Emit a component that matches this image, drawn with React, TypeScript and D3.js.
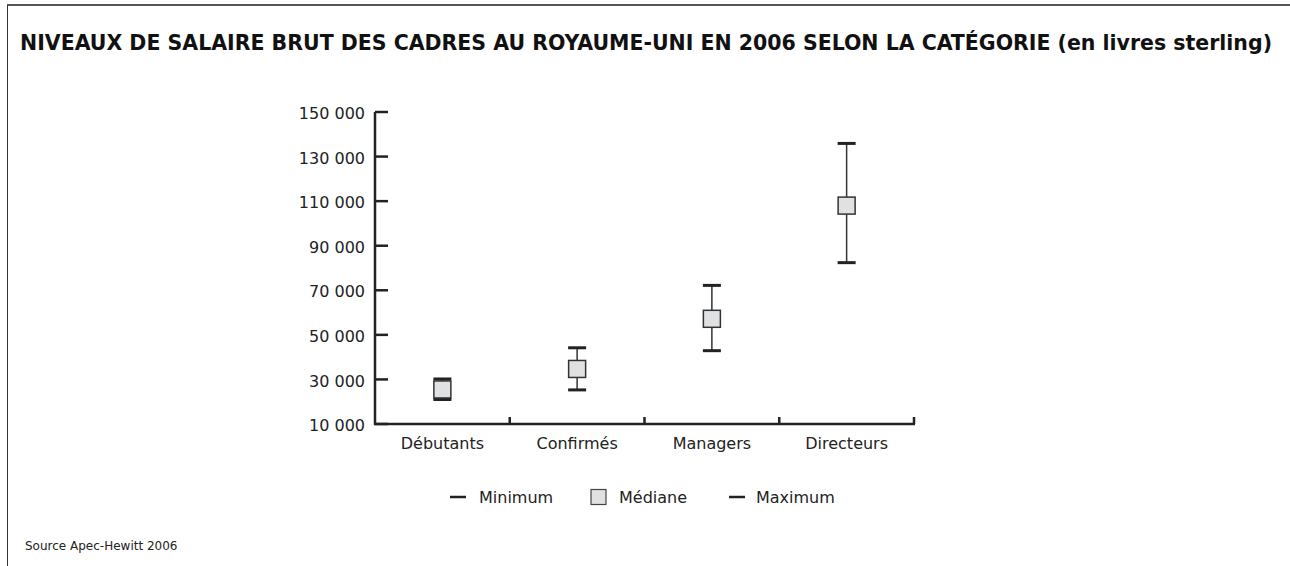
import React from "react";
import * as d3 from "d3";

const categories = ["Débutants", "Confirmés", "Managers", "Directeurs"];
const minValues = [21000, 25300, 42900, 82400];
const medianValues = [25500, 34700, 57200, 108000];
const maxValues = [30200, 44200, 72200, 135900];
const yTicks = [10000, 30000, 50000, 70000, 90000, 110000, 130000, 150000];
const legendLabels = ["Minimum", "Médiane", "Maximum"];

const W = 1290;
const H = 566;
const FONT = "'DejaVu Sans', sans-serif";

export default function App() {
  const y = d3.scaleLinear().domain([10000, 150000]).range([424, 112]);
  const x = d3.scaleBand().domain(categories).range([375, 914]).padding(0);
  const fmt = (v: number) => d3.format(",")(v).replace(/,/g, " ");
  const bw = x.bandwidth();
  const box = 17;
  const cap = 18;

  return (
    <svg
      width={W}
      height={H}
      style={{ position: "absolute", left: 0, top: 0, background: "#fff" }}
    >
      {/* frame */}
      <line x1={7} x2={W} y1={5} y2={5} stroke="#555" strokeWidth={2} />
      <line x1={7.5} x2={7.5} y1={5} y2={H} stroke="#333" strokeWidth={1} />

      <text
        x={20}
        y={50}
        fontFamily="'DejaVu Sans Condensed', 'DejaVu Sans', sans-serif"
        fontWeight="bold"
        fontSize={21.5}
        fill="#111"
        textLength={1252}
        lengthAdjust="spacingAndGlyphs"
      >
        NIVEAUX DE SALAIRE BRUT DES CADRES AU ROYAUME-UNI EN 2006 SELON LA CATÉGORIE (en livres sterling)
      </text>

      {/* y axis */}
      <line x1={375} x2={375} y1={y(150000)} y2={y(10000) + 1} stroke="#222" strokeWidth={2.5} />
      {yTicks.map((t) => (
        <g key={t}>
          <line x1={375} x2={388} y1={y(t)} y2={y(t)} stroke="#222" strokeWidth={2.5} />
          <text
            x={365}
            y={y(t)}
            dy="0.45em"
            textAnchor="end"
            fontFamily={FONT}
            fontSize={16}
            fill="#222"
          >
            {fmt(t)}
          </text>
        </g>
      ))}

      {/* x axis */}
      <line x1={374} x2={915} y1={424} y2={424} stroke="#222" strokeWidth={2.5} />
      {categories.map((c) => (
        <g key={c}>
          <line
            x1={(x(c) as number) + bw}
            x2={(x(c) as number) + bw}
            y1={424}
            y2={417}
            stroke="#222"
            strokeWidth={2.5}
          />
          <text
            x={(x(c) as number) + bw / 2}
            y={449}
            textAnchor="middle"
            fontFamily={FONT}
            fontSize={16}
            fill="#222"
          >
            {c}
          </text>
        </g>
      ))}

      {/* marks */}
      {categories.map((c, i) => {
        const cx = (x(c) as number) + bw / 2;
        return (
          <g key={c}>
            <line x1={cx} x2={cx} y1={y(maxValues[i])} y2={y(minValues[i])} stroke="#333" strokeWidth={1.5} />
            <line x1={cx - cap / 2} x2={cx + cap / 2} y1={y(maxValues[i])} y2={y(maxValues[i])} stroke="#222" strokeWidth={3} />
            <line x1={cx - cap / 2} x2={cx + cap / 2} y1={y(minValues[i])} y2={y(minValues[i])} stroke="#222" strokeWidth={3} />
            <rect
              x={cx - box / 2}
              y={y(medianValues[i]) - box / 2}
              width={box}
              height={box}
              fill="#e0e1e3"
              stroke="#333"
              strokeWidth={1.5}
            />
          </g>
        );
      })}

      {/* legend */}
      <g fontFamily={FONT} fontSize={16} fill="#222">
        <line x1={450} x2={466} y1={497} y2={497} stroke="#222" strokeWidth={2.5} />
        <text x={479} y={503}>{legendLabels[0]}</text>
        <rect x={591} y={489.5} width={15} height={15} fill="#e0e1e3" stroke="#444" strokeWidth={1.2} />
        <text x={619} y={503}>{legendLabels[1]}</text>
        <line x1={729} x2={745} y1={497} y2={497} stroke="#222" strokeWidth={2.5} />
        <text x={756} y={503}>{legendLabels[2]}</text>
      </g>

      <text x={25} y={550} fontFamily={FONT} fontSize={12} fill="#222">
        Source Apec-Hewitt 2006
      </text>
    </svg>
  );
}
